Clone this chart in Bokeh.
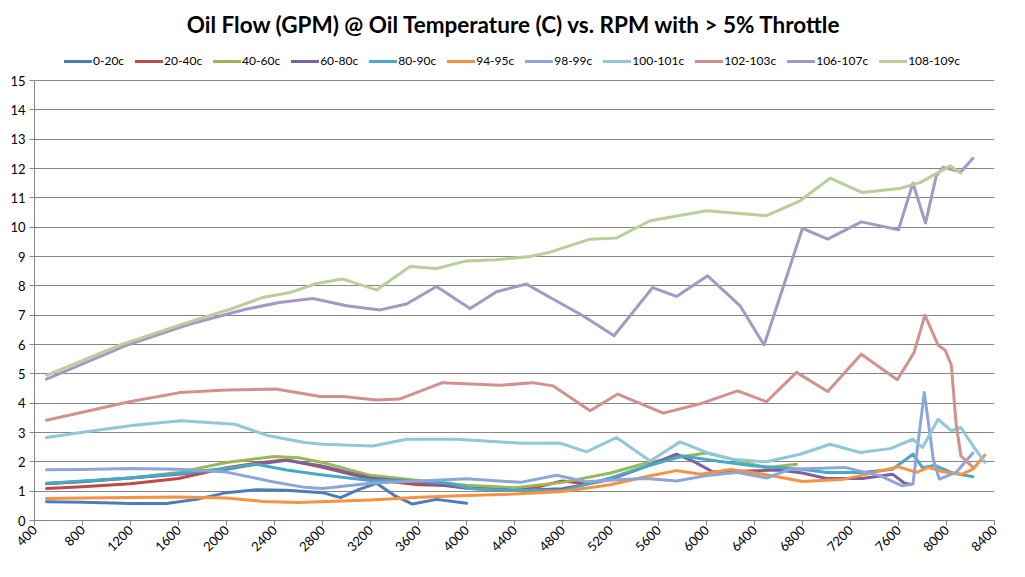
import math
from bokeh.plotting import figure
from bokeh.models import Range1d, FixedTicker, Legend, LegendItem
from bokeh.embed import file_html
from bokeh.resources import INLINE

TITLE = "Oil Flow (GPM) @ Oil Temperature (C) vs. RPM with > 5% Throttle"

x_ticks = [400, 800, 1200, 1600, 2000, 2400, 2800, 3200, 3600, 4000, 4400,
           4800, 5200, 5600, 6000, 6400, 6800, 7200, 7600, 8000, 8400]
y_ticks = [0, 1, 2, 3, 4, 5, 6, 7, 8, 9, 10, 11, 12, 13, 14, 15]

names = ["0-20c", "20-40c", "40-60c", "60-80c", "80-90c", "94-95c",
         "98-99c", "100-101c", "102-103c", "106-107c", "108-109c"]
colors = ["#4A7EBB", "#BE4B48", "#98B954", "#7D60A0", "#46AAC5", "#F69240",
          "#8EA6D7", "#8FC8DA", "#D4908E", "#A797C3", "#B7D09A"]

rpm_0_20 = [500, 800, 1200, 1500, 1750, 2000, 2250, 2500, 2800, 2950, 3100, 3250, 3400, 3550, 3750, 4000]
gpm_0_20 = [0.64, 0.62, 0.58, 0.58, 0.72, 0.95, 1.05, 1.03, 0.95, 0.78, 1.05, 1.27, 0.85, 0.56, 0.72, 0.59]

rpm_20_40 = [500, 800, 1200, 1600, 2000, 2250, 2500, 2800, 3200, 3600, 4000, 4400, 4600, 4800, 5000]
gpm_20_40 = [1.09, 1.15, 1.25, 1.43, 1.80, 1.95, 2.07, 1.81, 1.41, 1.22, 1.18, 1.08, 1.15, 1.35, 1.25]

rpm_40_60 = [500, 800, 1200, 1600, 2000, 2400, 2600, 2800, 3200, 3600, 4000, 4400, 4800, 5200,
             5500, 5800, 6000, 6200, 6500, 6750]
gpm_40_60 = [1.26, 1.32, 1.45, 1.64, 1.98, 2.18, 2.14, 1.98, 1.54, 1.36, 1.20, 1.12, 1.30, 1.62,
             1.96, 2.18, 2.30, 2.10, 1.80, 1.92]

rpm_60_80 = [500, 800, 1200, 1600, 2000, 2250, 2500, 2800, 3200, 3600, 4000, 4400, 4800, 5200,
             5500, 5750, 5900, 6050, 6350, 6600, 6800, 7000, 7300, 7550, 7650, 7700]
gpm_60_80 = [1.25, 1.33, 1.45, 1.58, 1.75, 1.92, 2.05, 1.86, 1.45, 1.30, 1.10, 1.02, 1.08, 1.40,
             1.85, 2.26, 2.00, 1.66, 1.69, 1.72, 1.62, 1.43, 1.43, 1.58, 1.27, 1.24]

rpm_80_90 = [500, 800, 1200, 1600, 2000, 2250, 2500, 2800, 3200, 3600, 3850, 4050, 4400, 4800,
             5200, 5500, 5800, 6100, 6400, 6800, 7000, 7300, 7550, 7720, 7800, 7900, 8050, 8220]
gpm_80_90 = [1.27, 1.35, 1.45, 1.60, 1.78, 1.92, 1.72, 1.55, 1.36, 1.34, 1.27, 1.08, 1.02, 1.02,
             1.45, 1.85, 2.20, 2.02, 1.86, 1.75, 1.64, 1.64, 1.75, 2.26, 1.80, 1.88, 1.62, 1.49]

rpm_94_95 = [500, 800, 1200, 1600, 2000, 2300, 2600, 3200, 3600, 4000, 4400, 4800, 5200, 5500,
             5750, 5950, 6200, 6500, 6800, 7150, 7400, 7600, 7750, 7850, 7970, 8130, 8220, 8320]
gpm_94_95 = [0.75, 0.77, 0.78, 0.80, 0.77, 0.65, 0.61, 0.70, 0.79, 0.85, 0.90, 0.99, 1.22, 1.50,
             1.70, 1.58, 1.74, 1.56, 1.33, 1.41, 1.64, 1.83, 1.64, 1.81, 1.66, 1.58, 1.75, 2.23]

rpm_98_99 = [500, 800, 1200, 1600, 2000, 2350, 2650, 2800, 3200, 3600, 4000, 4450, 4750, 5000,
             5250, 5500, 5750, 6000, 6250, 6500, 6700, 7150, 7450, 7630, 7720, 7815, 7890, 7940,
             8080, 8220]
gpm_98_99 = [1.73, 1.74, 1.77, 1.75, 1.65, 1.35, 1.13, 1.09, 1.27, 1.35, 1.42, 1.30, 1.54, 1.32,
             1.39, 1.43, 1.35, 1.53, 1.64, 1.45, 1.75, 1.81, 1.52, 1.18, 1.24, 4.36, 2.09, 1.41,
             1.64, 2.30]

rpm_100_101 = [500, 950, 1230, 1620, 2070, 2340, 2650, 2800, 3220, 3500, 3910, 4470, 4780, 5000,
               5250, 5530, 5780, 6000, 6220, 6500, 6780, 7030, 7280, 7530, 7720, 7800, 7930,
               8040, 8120, 8220, 8320]
gpm_100_101 = [2.83, 3.09, 3.25, 3.40, 3.28, 2.90, 2.66, 2.60, 2.54, 2.77, 2.77, 2.63, 2.64, 2.34,
               2.83, 2.03, 2.68, 2.32, 2.09, 2.00, 2.26, 2.60, 2.32, 2.45, 2.77, 2.49, 3.45,
               3.06, 3.17, 2.55, 1.98]

rpm_102_103 = [500, 1190, 1610, 2000, 2410, 2780, 2970, 3250, 3440, 3800, 4280, 4550, 4720, 5030,
               5260, 5640, 5940, 6260, 6500, 6750, 7010, 7290, 7590, 7730, 7820, 7930, 7990,
               8040, 8080, 8120, 8220]
gpm_102_103 = [3.42, 4.05, 4.36, 4.45, 4.48, 4.23, 4.23, 4.11, 4.14, 4.70, 4.61, 4.70, 4.59, 3.74,
               4.31, 3.66, 3.97, 4.42, 4.05, 5.05, 4.40, 5.67, 4.80, 5.73, 7.00, 5.98, 5.80,
               5.30, 3.30, 2.20, 1.81]

rpm_106_107 = [500, 1190, 1690, 2160, 2440, 2720, 3000, 3280, 3500, 3750, 4030, 4250, 4500, 4720,
               4970, 5230, 5550, 5750, 6010, 6280, 6480, 6800, 7010, 7290, 7600, 7720, 7825,
               7915, 7970, 8120, 8220]
gpm_106_107 = [4.82, 6.01, 6.69, 7.20, 7.43, 7.57, 7.32, 7.18, 7.38, 7.98, 7.23, 7.80, 8.06, 7.55,
               6.98, 6.30, 7.94, 7.64, 8.34, 7.32, 5.98, 9.96, 9.59, 10.18, 9.91, 11.50, 10.14,
               11.75, 12.04, 11.89, 12.35]

rpm_108_109 = [500, 1110, 1690, 2030, 2300, 2530, 2750, 2970, 3250, 3530, 3750, 4000, 4250, 4530,
               4690, 5030, 5250, 5530, 6000, 6500, 6780, 7030, 7300, 7610, 7780, 8030, 8120]
gpm_108_109 = [4.95, 5.98, 6.77, 7.20, 7.60, 7.77, 8.08, 8.23, 7.86, 8.66, 8.59, 8.85, 8.89, 9.00,
               9.14, 9.59, 9.63, 10.22, 10.56, 10.39, 10.90, 11.67, 11.18, 11.32, 11.52, 12.09, 11.84]

series_x = [rpm_0_20, rpm_20_40, rpm_40_60, rpm_60_80, rpm_80_90, rpm_94_95,
            rpm_98_99, rpm_100_101, rpm_102_103, rpm_106_107, rpm_108_109]
series_y = [gpm_0_20, gpm_20_40, gpm_40_60, gpm_60_80, gpm_80_90, gpm_94_95,
            gpm_98_99, gpm_100_101, gpm_102_103, gpm_106_107, gpm_108_109]

FONT = "Lato"
GRID = "#868686"

# frame spans fig y 37..520; value 15 sits at fig y 80 -> head-room for the legend
Y_TOP = 15 * 483 / 440

p = figure(width=1009, height=561, output_backend="svg", toolbar_location=None,
           x_range=Range1d(400, 8400), y_range=Range1d(0, Y_TOP),
           min_border_left=34, min_border_right=15, min_border_top=37, min_border_bottom=41,
           title=TITLE)
p.outline_line_color = None
p.background_fill_color = "white"
p.border_fill_color = "white"

p.title.align = "center"
p.title.text_font = FONT
p.title.text_font_size = "22.5px"
p.title.text_font_style = "bold"
p.title.text_color = "#000000"
p.title.offset = 0
p.title.standoff = 0

p.xaxis.ticker = FixedTicker(ticks=x_ticks)
p.yaxis.ticker = FixedTicker(ticks=y_ticks)
p.yaxis.bounds = (0, 15)
for ax in (p.xaxis[0], p.yaxis[0]):
    ax.axis_line_color = GRID
    ax.major_tick_line_color = GRID
    ax.minor_tick_line_color = None
    ax.major_tick_in = 0
    ax.major_tick_out = 5
    ax.major_label_text_font = FONT
    ax.major_label_text_font_size = "13px"
    ax.major_label_text_color = "#000000"
p.xaxis.major_label_orientation = math.pi / 4
p.xaxis.major_label_standoff = 2
p.yaxis.major_label_standoff = 4
p.xgrid.grid_line_color = None
p.ygrid.grid_line_color = GRID
p.ygrid.grid_line_width = 1

items = []
for name, col, xs, ys in zip(names, colors, series_x, series_y):
    r = p.line(xs, ys, line_color=col, line_width=3, line_join="round", line_cap="round")
    items.append(LegendItem(label=name, renderers=[r]))

legend = Legend(items=items, orientation="horizontal", location=(30, 452),
                label_text_font=FONT, label_text_font_size="12px", label_text_color="#000000",
                glyph_width=28, glyph_height=12, label_standoff=1, spacing=11,
                padding=0, margin=0, border_line_color=None, background_fill_alpha=0)
p.add_layout(legend, "center")

open("out.html", "w").write(file_html(p, INLINE))
